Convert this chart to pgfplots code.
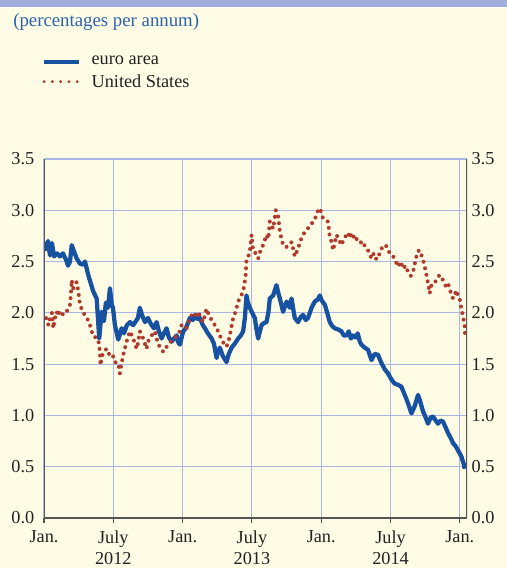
\documentclass[border=0pt]{standalone}
\usepackage{fontspec}
\setmainfont{Liberation Serif}
\usepackage{pgfplots}
\pgfplotsset{compat=1.18}
\definecolor{bgcream}{HTML}{FEFCE5}
\definecolor{topbar}{HTML}{9FAEDD}
\definecolor{gridblue}{HTML}{AAB6E4}
\definecolor{eablue}{HTML}{1651A2}
\definecolor{usred}{HTML}{B3392D}
\definecolor{titleblue}{HTML}{2D63AD}
\definecolor{axisgray}{HTML}{555555}
\definecolor{labelgray}{HTML}{222222}

\begin{document}
\begin{tikzpicture}
\fill[bgcream] (0,0) rectangle (380.25pt,426pt);
\fill[topbar] (0,420.75pt) rectangle (380.25pt,426pt);
\fill[white] (0,419.8pt) rectangle (380.25pt,420.75pt);
\path[use as bounding box] (0,0) rectangle (380.25pt,426pt);
\node[anchor=base west, inner sep=0pt, text=titleblue, font=\fontsize{14.1}{17}\selectfont] at (9.75pt,406pt) {(percentages per annum)};

\begin{axis}[
  at={(33pt,37.5pt)}, anchor=south west,
  scale only axis, width=317.25pt, height=269.25pt,
  xmin=0, xmax=36.62, ymin=0, ymax=3.5,
  axis line style={draw=none},
  grid=major, major grid style={gridblue, line width=0.8pt},
  xtick={0,6,12,18,24,30,36},
  xticklabels={Jan.,{July\\2012},Jan.,{July\\2013},Jan.,{July\\2014},Jan.},
  xtick pos=bottom, tick align=outside,
  major tick length=3.8pt,
  xtick style={axisgray, line width=0.8pt},
  xticklabel style={align=center, text=labelgray, yshift=-2.2pt, font=\fontsize{13.7}{15.9}\selectfont},
  ytick={0,0.5,...,3.5},
  ytick style={draw=none},
  yticklabel style={text=labelgray, font=\fontsize{13.7}{16}\selectfont, /pgf/number format/.cd, fixed, fixed zerofill, precision=1},
  /pgf/number format/assume math mode=true,
  legend style={at={(-0.005,1.294)}, anchor=north west, draw=none, fill=none, inner sep=0pt,
     font=\fontsize{13.7}{16}\selectfont, text=labelgray, row sep=1.5pt, cells={anchor=west}},
  legend cell align=left,
]
\addplot[eablue, line width=3.2pt, line join=round,
  legend image code/.code={\draw[eablue, line width=3pt] (0pt,0pt) -- (26pt,0pt); \path (32pt,0pt);}]
  table[row sep=\\] {
x y\\
0 2.69\\ 0.17 2.62\\ 0.35 2.70\\ 0.52 2.56\\ 0.69 2.68\\ 0.87 2.55\\ 1.12 2.58\\ 1.38 2.55\\
1.64 2.58\\ 1.90 2.52\\ 2.08 2.46\\ 2.25 2.50\\ 2.40 2.66\\ 2.53 2.62\\ 2.83 2.53\\ 3.11 2.48\\
3.40 2.47\\ 3.55 2.50\\ 3.83 2.37\\ 4.07 2.28\\ 4.26 2.21\\ 4.56 2.14\\ 4.67 1.95\\ 4.78 1.75\\
4.99 2.01\\ 5.19 1.92\\ 5.36 2.10\\ 5.54 2.05\\ 5.71 2.24\\ 5.86 2.08\\ 5.97 2.05\\ 6.14 1.88\\
6.43 1.74\\ 6.72 1.85\\ 6.92 1.80\\ 7.18 1.88\\ 7.44 1.91\\ 7.72 1.88\\ 7.96 1.92\\ 8.13 1.95\\
8.30 2.05\\ 8.48 1.98\\ 8.74 1.91\\ 9.00 1.95\\ 9.17 1.91\\ 9.32 1.88\\ 9.52 1.85\\ 9.75 1.91\\
9.95 1.82\\ 10.18 1.75\\ 10.38 1.80\\ 10.61 1.85\\ 10.81 1.76\\ 11.05 1.72\\ 11.25 1.75\\ 11.48 1.78\\
11.59 1.72\\ 11.76 1.69\\ 12.05 1.82\\ 12.28 1.85\\ 12.63 1.95\\ 12.89 1.93\\ 13.06 1.98\\ 13.24 1.94\\
13.49 1.95\\ 13.75 1.88\\ 13.93 1.85\\ 14.19 1.80\\ 14.51 1.75\\ 14.71 1.70\\ 14.94 1.56\\ 15.05 1.62\\
15.22 1.66\\ 15.48 1.58\\ 15.80 1.52\\ 16.00 1.60\\ 16.24 1.66\\ 16.52 1.70\\ 16.81 1.75\\ 17.04 1.78\\
17.24 1.82\\ 17.39 1.95\\ 17.53 2.17\\ 17.65 2.10\\ 17.82 2.05\\ 18.11 1.98\\ 18.25 1.95\\ 18.38 1.85\\
18.54 1.75\\ 18.83 1.88\\ 19.03 1.90\\ 19.26 1.91\\ 19.42 2.00\\ 19.55 2.14\\ 19.84 2.17\\ 19.98 2.22\\
20.13 2.27\\ 20.27 2.20\\ 20.42 2.14\\ 20.70 2.01\\ 21.00 2.11\\ 21.28 2.05\\ 21.43 2.14\\ 21.71 1.95\\
22.00 1.91\\ 22.23 1.96\\ 22.43 1.98\\ 22.66 1.93\\ 22.86 1.95\\ 23.16 2.05\\ 23.44 2.11\\ 23.70 2.13\\
23.88 2.17\\ 24.05 2.12\\ 24.31 2.08\\ 24.52 2.00\\ 24.74 1.91\\ 24.96 1.87\\ 25.17 1.85\\ 25.43 1.84\\
25.75 1.82\\ 25.95 1.78\\ 26.19 1.78\\ 26.38 1.82\\ 26.56 1.75\\ 26.76 1.78\\ 26.99 1.76\\ 27.16 1.80\\
27.34 1.72\\ 27.48 1.69\\ 27.77 1.66\\ 28.05 1.64\\ 28.35 1.54\\ 28.63 1.60\\ 28.92 1.59\\ 29.21 1.51\\
29.50 1.45\\ 29.78 1.41\\ 30.08 1.35\\ 30.36 1.31\\ 30.62 1.30\\ 30.94 1.28\\ 31.23 1.20\\ 31.51 1.12\\
31.81 1.02\\ 32.09 1.09\\ 32.38 1.20\\ 32.53 1.15\\ 32.81 1.04\\ 33.04 0.98\\ 33.24 0.92\\ 33.48 0.98\\
33.68 0.99\\ 33.91 0.95\\ 34.11 0.92\\ 34.34 0.95\\ 34.54 0.94\\ 34.78 0.88\\ 34.97 0.83\\ 35.21 0.78\\
35.41 0.73\\ 35.64 0.70\\ 35.84 0.66\\ 36.13 0.60\\ 36.33 0.53\\ 36.42 0.48\\
};
\addlegendentry{euro area}
\addplot[usred, line width=3pt, line cap=round, dash pattern=on 0pt off 5pt,
  legend image code/.code={\draw[usred, line width=2.4pt, line cap=round, dash pattern=on 0pt off 6.2pt] (0pt,0pt) -- (26pt,0pt); \path (32pt,0pt);}]
  table[row sep=\\] {
x y\\
0 1.95\\ 0.09 1.98\\ 0.26 1.92\\ 0.39 1.88\\ 0.52 1.95\\ 0.69 2.00\\ 0.80 1.85\\ 0.95 1.95\\
1.10 2.01\\ 1.21 1.97\\ 1.38 2.02\\ 1.67 1.98\\ 1.82 2.00\\ 1.96 2.01\\ 2.08 2.05\\ 2.25 2.08\\
2.34 2.20\\ 2.40 2.32\\ 2.53 2.24\\ 2.68 2.28\\ 2.83 2.30\\ 2.97 2.21\\ 3.11 2.08\\ 3.40 2.00\\
3.69 1.96\\ 3.98 1.88\\ 4.26 1.77\\ 4.50 1.76\\ 4.70 1.74\\ 4.84 1.62\\ 4.89 1.49\\ 5.02 1.58\\
5.19 1.62\\ 5.42 1.65\\ 5.62 1.60\\ 5.86 1.61\\ 5.97 1.58\\ 6.14 1.52\\ 6.43 1.51\\ 6.57 1.41\\
6.70 1.50\\ 6.86 1.59\\ 7.15 1.72\\ 7.44 1.82\\ 7.72 1.75\\ 8.02 1.65\\ 8.17 1.72\\ 8.30 1.82\\
8.59 1.75\\ 8.88 1.65\\ 9.00 1.72\\ 9.17 1.75\\ 9.43 1.80\\ 9.60 1.82\\ 9.89 1.69\\ 10.12 1.66\\
10.32 1.62\\ 10.55 1.66\\ 10.75 1.69\\ 10.99 1.72\\ 11.19 1.74\\ 11.48 1.78\\ 11.68 1.80\\ 11.91 1.88\\
12.11 1.86\\ 12.34 1.85\\ 12.63 1.95\\ 12.92 2.00\\ 13.15 1.98\\ 13.35 2.01\\ 13.58 1.95\\ 13.78 1.91\\
13.93 1.98\\ 14.07 2.04\\ 14.27 1.98\\ 14.51 1.93\\ 14.79 1.88\\ 15.08 1.82\\ 15.37 1.74\\ 15.57 1.70\\
15.80 1.67\\ 15.96 1.72\\ 16.09 1.78\\ 16.22 1.86\\ 16.38 1.95\\ 16.61 2.02\\ 16.81 2.11\\ 17.04 2.16\\
17.24 2.21\\ 17.45 2.35\\ 17.53 2.52\\ 17.69 2.55\\ 17.82 2.60\\ 17.97 2.76\\ 18.11 2.60\\ 18.34 2.58\\
18.54 2.53\\ 18.77 2.62\\ 18.97 2.66\\ 19.26 2.76\\ 19.42 2.72\\ 19.55 2.89\\ 19.84 2.82\\ 20.07 3.00\\
20.27 2.94\\ 20.42 2.79\\ 20.70 2.66\\ 20.93 2.64\\ 21.13 2.65\\ 21.43 2.69\\ 21.58 2.62\\ 21.71 2.55\\
22.00 2.63\\ 22.29 2.73\\ 22.58 2.79\\ 22.84 2.82\\ 23.01 2.86\\ 23.27 2.88\\ 23.44 2.91\\ 23.73 3.00\\
23.88 3.02\\ 24.16 2.92\\ 24.39 2.90\\ 24.59 2.89\\ 24.74 2.74\\ 24.87 2.70\\ 25.03 2.61\\ 25.32 2.76\\
25.52 2.72\\ 25.75 2.66\\ 25.95 2.72\\ 26.19 2.76\\ 26.34 2.74\\ 26.47 2.79\\ 26.69 2.72\\ 26.90 2.76\\
27.19 2.69\\ 27.34 2.68\\ 27.59 2.70\\ 27.77 2.65\\ 28.05 2.61\\ 28.35 2.53\\ 28.55 2.58\\ 28.78 2.52\\
29.07 2.58\\ 29.35 2.66\\ 29.65 2.65\\ 29.93 2.58\\ 30.19 2.56\\ 30.36 2.52\\ 30.65 2.45\\ 30.88 2.50\\
31.08 2.43\\ 31.31 2.46\\ 31.51 2.40\\ 31.75 2.36\\ 31.95 2.40\\ 32.24 2.55\\ 32.35 2.60\\ 32.53 2.61\\
32.81 2.52\\ 32.96 2.45\\ 33.11 2.37\\ 33.26 2.28\\ 33.39 2.19\\ 33.56 2.28\\ 33.82 2.29\\ 34.04 2.34\\
34.26 2.37\\ 34.54 2.32\\ 34.78 2.26\\ 34.97 2.29\\ 35.21 2.20\\ 35.41 2.14\\ 35.56 2.18\\ 35.71 2.22\\
35.87 2.15\\ 36.00 2.13\\ 36.15 2.03\\ 36.29 1.96\\ 36.42 1.87\\ 36.46 1.75\\
};
\addlegendentry{United States}
\draw[axisgray, line width=0.9pt] (rel axis cs:0,0) -- (rel axis cs:1,0);
\draw[axisgray, line width=0.9pt] (rel axis cs:0,0) -- (rel axis cs:0,1);
\draw[axisgray, line width=0.9pt] (rel axis cs:1,0) -- (rel axis cs:1,1);
\end{axis}

\begin{axis}[
  at={(33pt,37.5pt)}, anchor=south west,
  scale only axis, width=317.25pt, height=269.25pt,
  xmin=0, xmax=36.62, ymin=0, ymax=3.5,
  axis line style={draw=none},
  xtick=\empty,
  ytick={0,0.5,...,3.5},
  ytick style={draw=none},
  yticklabel pos=right,
  yticklabel style={text=labelgray, font=\fontsize{13.7}{16}\selectfont, /pgf/number format/.cd, fixed, fixed zerofill, precision=1},
  /pgf/number format/assume math mode=true,
]
\end{axis}
\end{tikzpicture}
\end{document}
